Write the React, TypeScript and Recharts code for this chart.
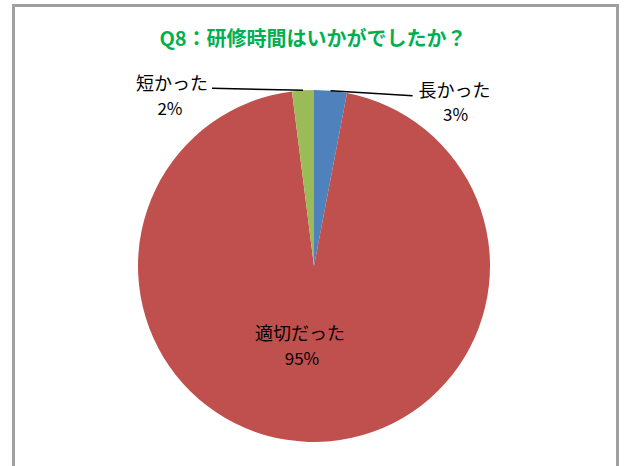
import React from "react";
import { PieChart, Pie, Cell } from "recharts";

const categories = ["長かった", "適切だった", "短かった"];
const values = [3, 95, 2];
const colors = ["#4F81BD", "#C0504D", "#9BBB59"];
const title = "Q8：研修時間はいかがでしたか？";

const data = categories.map((name, i) => ({ name, value: values[i] }));

const RADIAN = Math.PI / 180;
const FONT = "'Noto Sans CJK JP', 'Noto Sans', sans-serif";

const renderLabel = (props: any) => {
  const { cx, cy, midAngle, outerRadius, index, name, percent } = props;
  const pct = `${Math.round(percent * 100)}%`;
  const ex = cx + outerRadius * Math.cos(-midAngle * RADIAN);
  const ey = cy + outerRadius * Math.sin(-midAngle * RADIAN);
  if (index === 1) {
    return (
      <g>
        <text x={cx - 14} y={cy + 66} textAnchor="middle" dominantBaseline="central" fontSize={18} fontFamily={FONT} fill="#000">{name}</text>
        <text x={cx - 12} y={cy + 91} textAnchor="middle" dominantBaseline="central" fontSize={17} fontFamily={FONT} fill="#000">{pct}</text>
      </g>
    );
  }
  if (index === 0) {
    return (
      <g>
        <line x1={ex} y1={ey} x2={ex + 82} y2={ey + 5} stroke="#000" strokeWidth={1.5} />
        <text x={ex + 88} y={ey - 2} textAnchor="start" dominantBaseline="central" fontSize={18} fontFamily={FONT} fill="#000">{name}</text>
        <text x={ex + 125} y={ey + 23} textAnchor="middle" dominantBaseline="central" fontSize={17} fontFamily={FONT} fill="#000">{pct}</text>
      </g>
    );
  }
  return (
    <g>
      <line x1={ex} y1={ey} x2={ex - 91} y2={ey - 2} stroke="#000" strokeWidth={1.5} />
      <text x={ex - 95} y={ey - 8} textAnchor="end" dominantBaseline="central" fontSize={18} fontFamily={FONT} fill="#000">{name}</text>
      <text x={ex - 133} y={ey + 17} textAnchor="middle" dominantBaseline="central" fontSize={17} fontFamily={FONT} fill="#000">{pct}</text>
    </g>
  );
};

export default function App() {
  return (
    <div style={{ position: "absolute", left: 0, top: 0, width: 626, height: 466, overflow: "hidden", background: "#fff" }}>
      <div
        style={{
          position: "absolute",
          left: 12,
          top: 4,
          width: 607,
          height: 500,
          boxSizing: "border-box",
          border: "3px solid #a0a0a0",
        }}
      />
      <div
        style={{
          position: "absolute",
          left: 0,
          top: 25,
          width: 626,
          textAlign: "center",
          fontFamily: FONT,
          fontWeight: 700,
          fontSize: 20,
          lineHeight: "26px",
          color: "#00B050",
        }}
      >
        {title}
      </div>
      <div style={{ position: "absolute", left: 0, top: 0 }}>
        <PieChart width={626} height={466}>
          <Pie
            data={data}
            dataKey="value"
            nameKey="name"
            cx={309}
            cy={261}
            outerRadius={176}
            startAngle={90}
            endAngle={-270}
            stroke="none"
            label={renderLabel}
            labelLine={false}
            isAnimationActive={false}
          >
            {data.map((d, i) => (
              <Cell key={d.name} fill={colors[i]} />
            ))}
          </Pie>
        </PieChart>
      </div>
    </div>
  );
}
